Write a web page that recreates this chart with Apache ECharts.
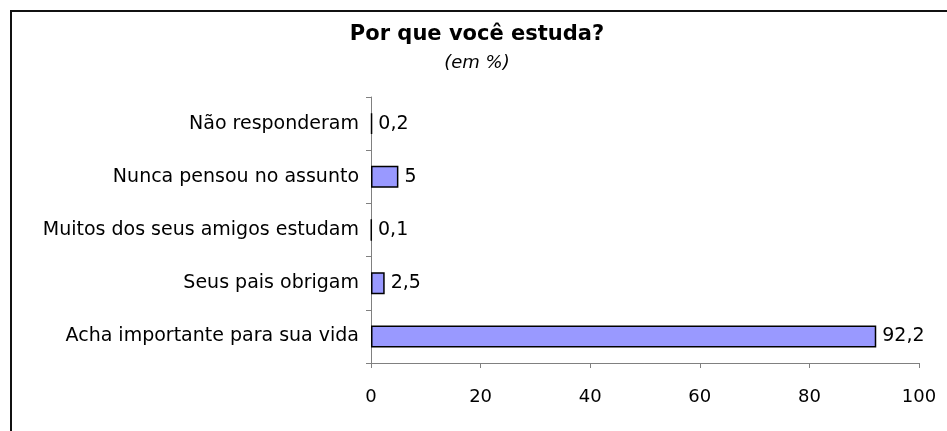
<!DOCTYPE html>
<html>
<head>
<meta charset="utf-8">
<script src="https://cdn.jsdelivr.net/npm/echarts@6/dist/echarts.min.js"></script>
<style>
html,body{margin:0;padding:0;background:#fff;}
#c{width:947px;height:431px;}
</style>
</head>
<body>
<div id="c"></div>
<script>
const categories = ["Acha importante para sua vida","Seus pais obrigam","Muitos dos seus amigos estudam","Nunca pensou no assunto","Não responderam"];
const values = [92.2, 2.5, 0.1, 5, 0.2];
const xTicks = [0, 20, 40, 60, 80, 100];
const titleText = "Por que você estuda?";
const subtitleText = "(em %)";

const chart = echarts.init(document.getElementById('c'));
const font = "'DejaVu Sans', sans-serif";
chart.setOption({
  animation: false,
  backgroundColor: '#fff',
  title: {
    text: titleText,
    subtext: subtitleText,
    left: 472, top: 19, textAlign: 'center',
    itemGap: 9,
    textStyle: {fontFamily: font, fontSize: 21, fontWeight: 'bold', color: '#000'},
    subtextStyle: {fontFamily: font, fontSize: 18, fontStyle: 'italic', color: '#000'}
  },
  graphic: [
    {type: 'line', shape: {x1: 11, y1: 11, x2: 947, y2: 11}, style: {stroke: '#111', lineWidth: 2}},
    {type: 'line', shape: {x1: 11, y1: 10, x2: 11, y2: 431}, style: {stroke: '#111', lineWidth: 2}}
  ],
  grid: {left: 371, right: 28, top: 97, bottom: 68},
  xAxis: {
    type: 'value', min: 0, max: 100, interval: 20,
    splitLine: {show: false},
    axisLine: {show: true, lineStyle: {color: '#808080', width: 1}},
    axisTick: {show: true, length: 5, lineStyle: {color: '#808080'}},
    axisLabel: {fontFamily: font, fontSize: 18, color: '#000', margin: 25,
      formatter: v => xTicks.includes(v) ? String(v) : ''}
  },
  yAxis: {
    type: 'category', data: categories,
    axisLine: {show: true, lineStyle: {color: '#808080', width: 1}},
    axisTick: {show: true, length: 5, inside: false, lineStyle: {color: '#808080'}},
    axisLabel: {fontFamily: font, fontSize: 19, color: '#000', margin: 12}
  },
  series: [{
    type: 'bar', data: values, barWidth: 22,
    itemStyle: {color: '#9999FF', borderColor: '#000', borderWidth: 1.5},
    label: {show: true, position: 'right', distance: 6, fontFamily: font, fontSize: 19, color: '#000',
      formatter: p => String(p.value).replace('.', ',')}
  }]
});
</script>
</body>
</html>
